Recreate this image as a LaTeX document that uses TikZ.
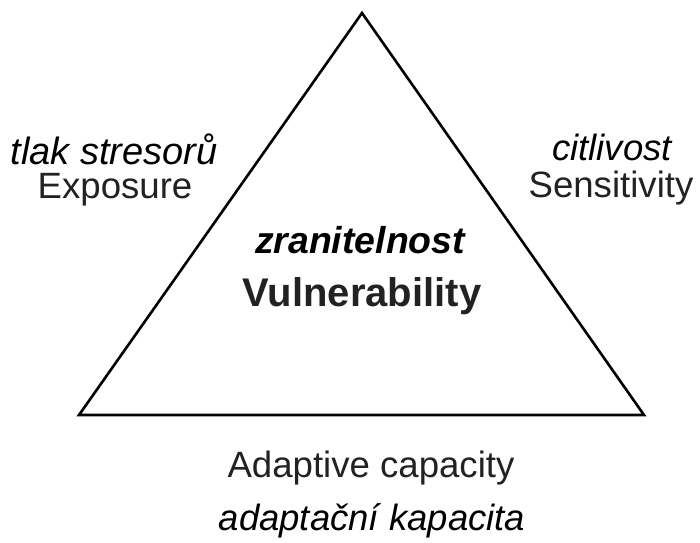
\documentclass[tikz,border=0pt]{standalone}
\usepackage{fontspec}
\setmainfont{Liberation Sans}
\definecolor{engtext}{HTML}{222222}
\begin{document}
\begin{tikzpicture}[x=1pt,y=-1pt,
  lbl/.style={inner sep=0pt,anchor=base,font=\fontsize{36.6pt}{40pt}\selectfont},
  eng/.style={lbl,text=engtext},
  cz/.style={lbl,text=black,font=\fontsize{37pt}{40pt}\selectfont\itshape},
  tri/.style={draw=black,line width=2.6pt,line join=miter}]
\useasboundingbox (0,0) rectangle (700,542);
\coordinate (apex) at (362,13);
\coordinate (bl) at (79,415);
\coordinate (br) at (644,415);
\draw[tri] (apex) -- (br) -- (bl) -- cycle;
\node[cz,font=\fontsize{38pt}{40pt}\selectfont\itshape] (tlak) at (114,164) {tlak stresorů};
\node[eng] (exp) at (115,198) {Exposure};
\node[cz,font=\fontsize{36.5pt}{40pt}\selectfont\itshape] (cit) at (612,160) {citlivost};
\node[eng] (sens) at (611,197) {Sensitivity};
\node[cz,font=\fontsize{37.4pt}{40pt}\selectfont\bfseries\itshape] (zran) at (360,253) {zranitelnost};
\node[lbl,text=engtext,font=\fontsize{40pt}{44pt}\selectfont\bfseries] (vul) at (362,306) {Vulnerability};
\node[eng] (adap) at (371,477) {Adaptive capacity};
\node[cz,font=\fontsize{36.5pt}{40pt}\selectfont\itshape] (adcz) at (372,530) {adaptační kapacita};
\end{tikzpicture}
\end{document}
